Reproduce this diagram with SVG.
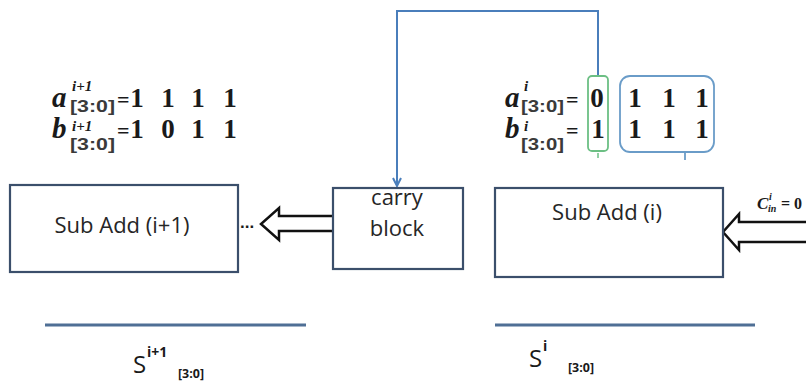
<svg xmlns="http://www.w3.org/2000/svg" width="806" height="381" viewBox="0 0 806 381">
<style>
.box{fill:#fff;stroke:#3b4f6b;stroke-width:2.2}
.lbl{font-family:"Open Sans","Liberation Sans",sans-serif;font-size:22px;fill:#262626;text-anchor:middle}
.var{font-family:"Liberation Serif",serif;font-style:italic;font-weight:bold;font-size:29px;fill:#1a1a1a}
.sup{font-family:"Liberation Serif",serif;font-style:italic;font-weight:bold;font-size:15px;fill:#1a1a1a}
.sub{font-family:"Liberation Sans",sans-serif;font-weight:bold;font-size:17px;fill:#3a3a3a}
.dig{font-family:"Liberation Serif",serif;font-weight:bold;font-size:27px;fill:#1a1a1a;text-anchor:middle}
.eq{font-family:"Liberation Serif",serif;font-weight:bold;font-size:22px;fill:#1a1a1a}
.hollow{fill:#fff;stroke:#111;stroke-width:2.5;stroke-linejoin:miter}
.blue{fill:none;stroke:#4a7ebb;stroke-width:2}
.sline{stroke:#4f6f95;stroke-width:3}
.s{font-family:"Open Sans","Liberation Sans",sans-serif;fill:#1a1a1a}
.sb{font-family:"Open Sans","Liberation Sans",sans-serif;font-weight:bold;fill:#1a1a1a}
</style>
<defs>
<marker id="ah" markerWidth="10" markerHeight="10" refX="9" refY="5" orient="auto" markerUnits="userSpaceOnUse">
<path d="M1,1 L9,5 L1,9" fill="none" stroke="#4a7ebb" stroke-width="2"/>
</marker>
</defs>

<g id="connectors">
<path class="blue" d="M598,76 V11 H397 V186" marker-end="url(#ah)"/>
<path class="hollow" d="M333,216 H279 V208 L261,224 L279,240 V231 H333"/>
<path class="hollow" d="M806,222 H739 V214 L723,232 L739,250 V242 H806"/>
<text x="240" y="228" style="font-family:'Liberation Sans',sans-serif;font-size:17px;font-weight:bold;fill:#1a1a1a">...</text>
</g>

<g id="sub-add-i1">
<rect class="box" x="10" y="185" width="228" height="87"/>
<text class="lbl" x="122" y="233">Sub Add (i+1)</text>
</g>

<g id="carry-block">
<rect class="box" x="333" y="188" width="130" height="81"/>
<text class="lbl" x="397" y="205">carry</text>
<text class="lbl" x="397" y="236">block</text>
</g>

<g id="sub-add-i">
<rect class="box" x="495" y="188" width="228" height="89"/>
<text class="lbl" x="607" y="220">Sub Add (i)</text>
</g>

<g id="cin">
<text class="sup" x="757" y="209" style="font-size:17px">C</text>
<text class="sup" x="769" y="200" style="font-size:10px">i</text>
<text class="sup" x="768" y="212" style="font-size:10px">in</text>
<text class="eq" x="781" y="209" style="font-size:16px">= 0</text>
</g>

<g id="eq-left">
<text class="var" x="52" y="107">a</text>
<text class="sup" x="72" y="91">i+1</text>
<text class="sub" x="70" y="112" textLength="45" lengthAdjust="spacingAndGlyphs">[3:0]</text>
<text class="eq" x="117" y="107">=</text>
<text class="dig" x="137" y="107">1</text>
<text class="dig" x="168" y="107">1</text>
<text class="dig" x="198" y="107">1</text>
<text class="dig" x="230" y="107">1</text>
<text class="var" x="52" y="138">b</text>
<text class="sup" x="72" y="131">i+1</text>
<text class="sub" x="70" y="150" textLength="45" lengthAdjust="spacingAndGlyphs">[3:0]</text>
<text class="eq" x="117" y="138">=</text>
<text class="dig" x="137" y="138">1</text>
<text class="dig" x="168" y="138">0</text>
<text class="dig" x="198" y="138">1</text>
<text class="dig" x="230" y="138">1</text>
</g>

<g id="eq-right">
<text class="var" x="505" y="107">a</text>
<text class="sup" x="524" y="91">i</text>
<text class="sub" x="521" y="112" textLength="43" lengthAdjust="spacingAndGlyphs">[3:0]</text>
<text class="eq" x="566" y="107">=</text>
<text class="dig" x="597" y="107">0</text>
<text class="dig" x="635" y="107">1</text>
<text class="dig" x="669" y="107">1</text>
<text class="dig" x="702" y="107">1</text>
<text class="var" x="505" y="138">b</text>
<text class="sup" x="524" y="131">i</text>
<text class="sub" x="521" y="150" textLength="43" lengthAdjust="spacingAndGlyphs">[3:0]</text>
<text class="eq" x="566" y="138">=</text>
<text class="dig" x="598" y="138">1</text>
<text class="dig" x="635" y="138">1</text>
<text class="dig" x="669" y="138">1</text>
<text class="dig" x="702" y="138">1</text>
</g>

<g id="brackets">
<rect x="588" y="76" width="20" height="75" rx="4" fill="none" stroke="#6cbf84" stroke-width="1.8"/>
<line x1="598" y1="153" x2="598" y2="158" stroke="#6cbf84" stroke-width="1.5"/>
<rect x="620" y="76" width="94" height="76" rx="10" fill="none" stroke="#6a9cc8" stroke-width="1.8"/>
<line x1="685" y1="152" x2="685" y2="160" stroke="#6a9cc8" stroke-width="1.8"/>
</g>

<g id="sum-left">
<line class="sline" x1="45" y1="325" x2="306" y2="325"/>
<text class="s" x="133" y="373" style="font-size:24px">S</text>
<text class="sb" x="147" y="357" style="font-size:14px">i+1</text>
<text class="sb" x="178" y="378" style="font-size:13px" textLength="26" lengthAdjust="spacingAndGlyphs">[3:0]</text>
</g>

<g id="sum-right">
<line class="sline" x1="495" y1="325" x2="755" y2="325"/>
<text class="s" x="529" y="367" style="font-size:24px">S</text>
<text class="sb" x="543" y="351" style="font-size:14px">i</text>
<text class="sb" x="568" y="372" style="font-size:13px" textLength="26" lengthAdjust="spacingAndGlyphs">[3:0]</text>
</g>
</svg>
